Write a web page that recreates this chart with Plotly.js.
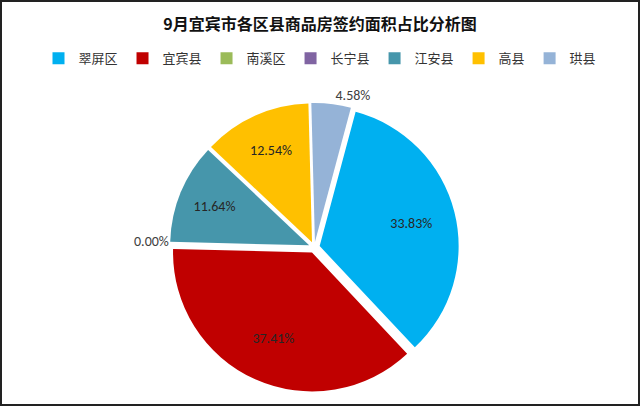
<!DOCTYPE html>
<html>
<head>
<meta charset="utf-8">
<script src="https://cdn.plot.ly/plotly-3.0.1.min.js"></script>
<style>
  html, body { margin: 0; padding: 0; background: #fff; }
  #chart { width: 640px; height: 406px; box-sizing: border-box; border: 2px solid #222; }
</style>
</head>
<body>
<div id="chart"></div>
<script>
// 9月宜宾市各区县商品房签约面积占比
const districts = ['翠屏区', '宜宾县', '南溪区', '长宁县', '江安县', '高县', '珙县'];
const shares = [33.83, 37.41, 0.00, 0.00, 11.64, 12.54, 4.58];
const sliceColors = ['#00B0F0', '#C00000', '#9BBB59', '#8064A2', '#4696AB', '#FFC000', '#95B3D7'];

const labelFont = 'Calibri, "Liberation Sans", "Noto Sans CJK SC", sans-serif';
const pieDomain = { x: [0.263, 0.719], y: [0.03, 0.749] };

// 扇形本体
const pieTrace = {
  type: 'pie',
  labels: districts,
  values: shares,
  sort: false,
  direction: 'clockwise',
  rotation: 15,
  pull: 0.04,
  marker: { colors: sliceColors, line: { width: 0 } },
  textinfo: 'none',
  hoverinfo: 'label+percent',
  domain: pieDomain
};

// 数据标签（透明的环形，用来把标签往外推）
const labelTrace = {
  type: 'pie',
  labels: districts,
  values: shares,
  sort: false,
  direction: 'clockwise',
  rotation: 15,
  pull: 0.04,
  hole: 0.36,
  showlegend: false,
  marker: { colors: districts.map(() => 'rgba(0,0,0,0)'), line: { width: 0 } },
  texttemplate: '%{value:.2f}%',
  textposition: ['inside', 'inside', 'none', 'none', 'inside', 'inside', 'outside'],
  insidetextorientation: 'horizontal',
  textfont: { family: labelFont, size: 14, color: '#262626' },
  outsidetextfont: { family: labelFont, size: 14, color: '#404040' },
  hoverinfo: 'skip',
  domain: pieDomain
};

Plotly.newPlot('chart', [pieTrace, labelTrace], {
  width: 636,
  height: 402,
  margin: { l: 0, r: 0, t: 0, b: 0 },
  paper_bgcolor: '#fff',
  title: {
    text: '9月宜宾市各区县商品房签约面积占比分析图',
    font: { family: '"Noto Sans CJK SC", sans-serif', size: 16, color: '#111', weight: 'bold' },
    x: 0.5, xanchor: 'center', y: 0.945, yanchor: 'middle', yref: 'container'
  },
  showlegend: true,
  legend: {
    orientation: 'h',
    x: 0.5, xanchor: 'center',
    y: 0.86, yanchor: 'middle',
    font: { family: '"Noto Sans CJK SC", sans-serif', size: 13, color: '#333' },
    traceorder: 'normal',
    itemwidth: 30
  },
  annotations: [{
    text: '0.00%',
    x: 0.205, y: 0.404, xref: 'paper', yref: 'paper',
    showarrow: false,
    font: { family: labelFont, size: 14, color: '#404040' }
  }]
}, { displayModeBar: false });
</script>
</body>
</html>
